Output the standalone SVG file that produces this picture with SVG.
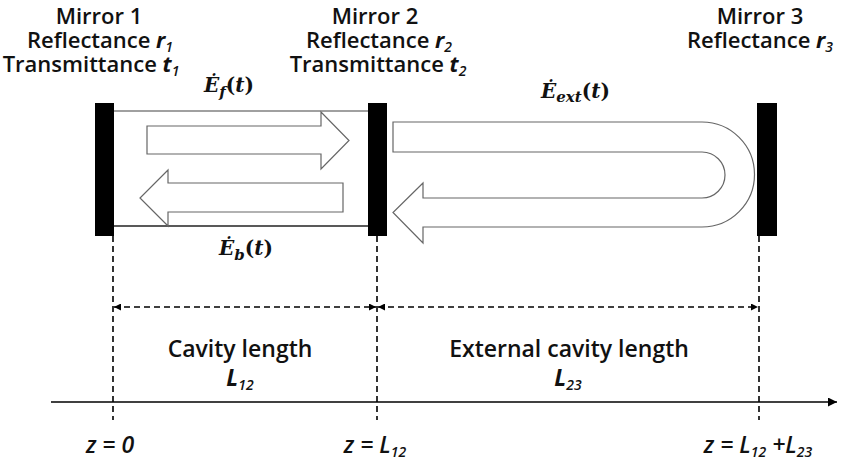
<svg xmlns="http://www.w3.org/2000/svg" width="842" height="468" viewBox="0 0 842 468">
<defs>
<style>
.lbl{font-family:"Open Sans","Noto Sans",sans-serif;font-weight:600;font-size:22px;fill:#111;text-anchor:middle}
.big{font-size:23px}
.it{font-style:italic;font-weight:700}
.zi{font-style:italic;font-weight:600;font-size:23px}
.sub{font-size:14px;font-style:italic}
.math{font-family:"DejaVu Serif","Liberation Serif",serif;font-weight:700;font-style:italic;font-size:20px;fill:#111}
.up{font-style:normal}
.msub{font-size:15px}
.mirror{fill:#000}
.beam{fill:#fff;stroke:#666;stroke-width:1.2}
.dash{stroke:#000;stroke-width:1.6;stroke-dasharray:6,4;fill:none}
.cav{stroke-width:1.3;fill:none}
</style>
<marker id="ah" viewBox="0 0 10 10" refX="10" refY="5" markerWidth="7" markerHeight="7" orient="auto-start-reverse" markerUnits="userSpaceOnUse">
<path d="M0,0 L10,5 L0,10 Z" fill="#000"/>
</marker>
<marker id="axh" viewBox="0 0 10 10" refX="10" refY="5" markerWidth="9" markerHeight="9" orient="auto" markerUnits="userSpaceOnUse">
<path d="M0,0 L10,5 L0,10 Z" fill="#000"/>
</marker>
</defs>
<rect width="842" height="468" fill="#fff"/>

<g id="connectors">
<line x1="114" y1="111" x2="368" y2="111" class="cav" stroke="#808080"/>
<line x1="114" y1="226" x2="368" y2="226" class="cav" stroke="#222"/>
<line x1="113" y1="236" x2="113" y2="420" class="dash"/>
<line x1="377" y1="236" x2="377" y2="420" class="dash"/>
<line x1="759" y1="236" x2="759" y2="420" class="dash"/>
<line x1="114" y1="307" x2="376" y2="307" class="dash" marker-start="url(#ah)" marker-end="url(#ah)"/>
<line x1="378" y1="307" x2="758" y2="307" class="dash" marker-start="url(#ah)" marker-end="url(#ah)"/>
<line x1="51" y1="402" x2="837" y2="402" stroke="#000" stroke-width="1.6" marker-end="url(#axh)"/>
</g>

<g id="beam-forward">
<polygon class="beam" points="147,126 321,126 321,112 349,140.5 321,169 321,154 147,154"/>
</g>
<g id="beam-backward">
<polygon class="beam" points="343,183 168,183 168,170 140,198 168,226 168,212 343,212"/>
</g>
<g id="beam-external">
<path class="beam" d="M393,122 L702,122 A52.5,52.5 0 0 1 702,227 L423,227 L423,243 L393,212.5 L423,183 L423,198 L702,198 A23,23 0 0 0 702,152 L393,152 Z"/>
</g>

<g id="mirror1">
<rect class="mirror" x="95" y="103" width="19" height="133"/>
<text class="lbl"><tspan x="99" y="24">Mirror 1</tspan><tspan x="100" y="48">Reflectance <tspan class="it">r</tspan><tspan class="sub" dy="4">1</tspan></tspan><tspan x="91" y="72">Transmittance <tspan class="it">t</tspan><tspan class="sub" dy="4">1</tspan></tspan></text>
</g>
<g id="mirror2">
<rect class="mirror" x="368" y="103" width="19" height="133"/>
<text class="lbl"><tspan x="375" y="24">Mirror 2</tspan><tspan x="379" y="48">Reflectance <tspan class="it">r</tspan><tspan class="sub" dy="4">2</tspan></tspan><tspan x="378" y="72">Transmittance <tspan class="it">t</tspan><tspan class="sub" dy="4">2</tspan></tspan></text>
</g>
<g id="mirror3">
<rect class="mirror" x="757" y="103" width="20" height="133"/>
<text class="lbl"><tspan x="760" y="24">Mirror 3</tspan><tspan x="760" y="48">Reflectance <tspan class="it">r</tspan><tspan class="sub" dy="4">3</tspan></tspan></text>
</g>

<g id="field-labels">
<text class="math" x="204" y="92">Ė<tspan class="msub" dy="5">f</tspan><tspan class="up" dy="-5">(</tspan>t<tspan class="up">)</tspan></text>
<text class="math" x="219" y="255">Ė<tspan class="msub" dy="5">b</tspan><tspan class="up" dy="-5">(</tspan>t<tspan class="up">)</tspan></text>
<text class="math" x="541" y="98">Ė<tspan class="msub" dy="4">ext</tspan><tspan class="up" dy="-4">(</tspan>t<tspan class="up">)</tspan></text>
</g>

<g id="dimension-labels">
<text class="lbl big"><tspan x="240" y="357">Cavity length</tspan><tspan x="240" y="386"><tspan class="it">L</tspan><tspan class="sub" dy="4">12</tspan></tspan></text>
<text class="lbl big"><tspan x="569" y="357">External cavity length</tspan><tspan x="568" y="386"><tspan class="it">L</tspan><tspan class="sub" dy="4">23</tspan></tspan></text>
</g>

<g id="axis-labels">
<text class="lbl zi" x="110" y="453">z = 0</text>
<text class="lbl zi" x="375" y="453">z = L<tspan class="sub" dy="4">12</tspan></text>
<text class="lbl zi" x="758" y="453">z = L<tspan class="sub" dy="4">12</tspan><tspan dy="-4"> +L</tspan><tspan class="sub" dy="4">23</tspan></text>
</g>
</svg>
